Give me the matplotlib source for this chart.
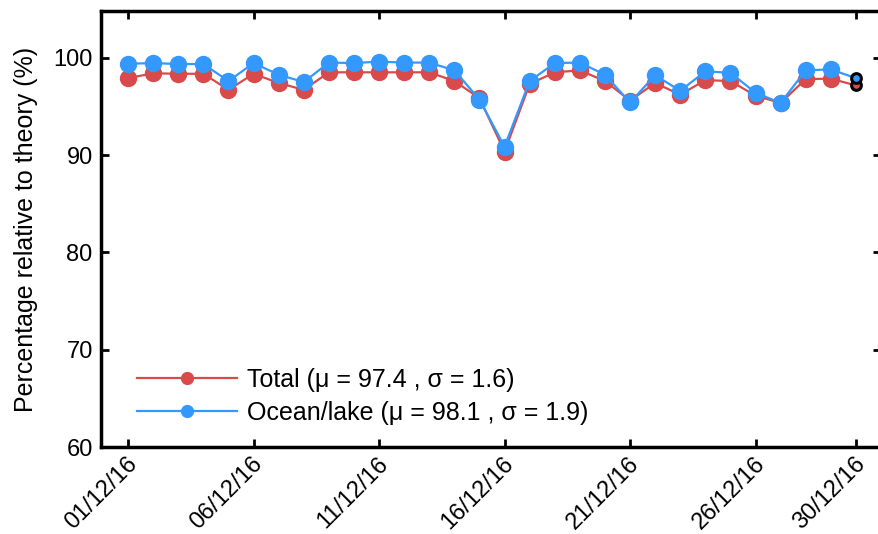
import numpy as np
import matplotlib.pyplot as plt
import matplotlib.transforms as mtransforms
from matplotlib.lines import Line2D

plt.rcParams['font.family'] = ['Liberation Sans', 'DejaVu Sans']

# daily values, December 2016
dates = ["%02d/12/16" % d for d in range(1, 31)]
total = [97.9, 98.4, 98.35, 98.35, 96.7, 98.35, 97.4, 96.7, 98.5, 98.5,
         98.5, 98.5, 98.5, 97.6, 95.85, 90.35, 97.3, 98.5, 98.7, 97.6,
         95.6, 97.4, 96.2, 97.7, 97.6, 96.1, 95.35, 97.8, 97.85, 97.15]
ocean = [99.38, 99.45, 99.35, 99.35, 97.6, 99.45, 98.25, 97.5, 99.5, 99.45,
         99.6, 99.5, 99.5, 98.7, 95.7, 90.86, 97.6, 99.45, 99.5, 98.25,
         95.4, 98.2, 96.6, 98.6, 98.45, 96.4, 95.35, 98.7, 98.8, 97.9]
tick_idx = [0, 5, 10, 15, 20, 25, 29]
labels = ['Total (\u03bc = 97.4 , \u03c3 = 1.6)',
          'Ocean/lake (\u03bc = 98.1 , \u03c3 = 1.9)']

red = '#d94a4a'
blue = '#3399ff'
x = np.arange(1, len(dates) + 1)

fig = plt.figure(figsize=(8.79, 5.34), dpi=100)
ax = fig.add_axes([101/879, 1 - 447/534, 780/879, 436/534])

ax.plot(x, total, '-o', color=red, lw=1.6, ms=11.5, markevery=list(range(29)))
ax.plot(x, ocean, '-o', color=blue, lw=1.6, ms=11.5, markevery=list(range(29)))
ax.plot(x[-1], total[-1], 'o', color=red, ms=7, mec='black', mew=2.2)
ax.plot(x[-1], ocean[-1], 'o', color=blue, ms=7, mec='black', mew=2.2)

ax.set_xlim(-0.08, 31.0)
ax.set_ylim(60, 104.8)
ax.set_yticks([60, 70, 80, 90, 100])
ax.set_xticks(x[tick_idx])
ax.set_xticklabels([dates[i] for i in tick_idx], rotation=45, ha='right',
                   va='center', rotation_mode='anchor', fontsize=16.5)
ax.tick_params(direction='in', length=6, width=2, labelsize=17,
               top=True, right=True)
ax.tick_params(axis='x', pad=10)
ax.tick_params(axis='y', pad=6)
# nudge the date labels a little to the right
shift = mtransforms.ScaledTranslation(6/100, 0, fig.dpi_scale_trans)
for lab in ax.get_xticklabels():
    lab.set_transform(lab.get_transform() + shift)
for s in ax.spines.values():
    s.set_linewidth(2.5)
ax.set_ylabel('Percentage relative to theory (%)', fontsize=18, labelpad=11)

handles = [Line2D([], [], color=red, lw=1.6, marker='o', ms=8.5),
           Line2D([], [], color=blue, lw=1.6, marker='o', ms=8.5)]
ax.legend(handles, labels, loc='lower left', frameon=False, fontsize=18,
          handlelength=4.0, handletextpad=0.4, borderpad=0, borderaxespad=0,
          bbox_to_anchor=(36/780, 22/436), labelspacing=0.38)

fig.savefig('out.png', dpi=100)
